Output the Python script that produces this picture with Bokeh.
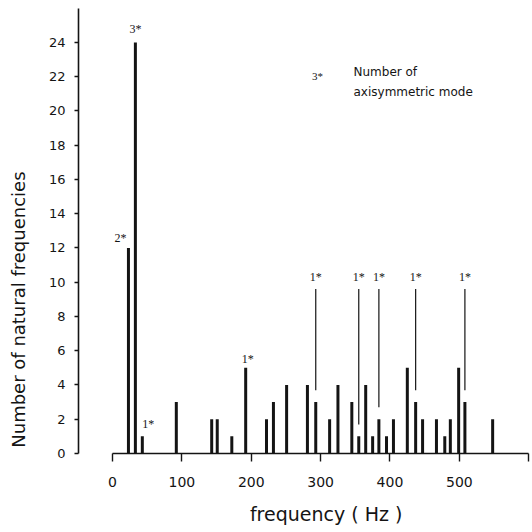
import numpy as np
from bokeh.plotting import figure
from bokeh.models import Label, FixedTicker, Range1d, ColumnDataSource
from bokeh.embed import file_html
from bokeh.resources import INLINE
from bokeh.core.properties import value

# ---- data ----
freqs = [23, 33, 43, 92, 143, 151, 172, 192, 222, 232, 251, 281, 293, 313, 325,
         345, 355, 365, 375, 384, 395, 405, 425, 437, 447, 467, 479, 487, 499, 508, 548]
counts = [12, 24, 1, 3, 2, 2, 1, 5, 2, 3, 4, 4, 3, 2, 4,
          3, 1, 4, 1, 2, 1, 2, 5, 3, 2, 2, 1, 2, 5, 3, 2]

# axisymmetric mode numbers (labelled bars)
mode_freqs = [33, 23, 43, 192]
mode_labels = ["3*", "2*", "1*", "1*"]
leader_freqs = [293, 355, 384, 437, 508]
leader_labels = ["1*", "1*", "1*", "1*", "1*"]

x_ticks = [0, 100, 200, 300, 400, 500, 600]
y_ticks = list(range(0, 25, 2))

x_title = "frequency ( Hz )"
y_title = "Number of natural frequencies"

INK = "#141414"
SANS = "DejaVu Sans"
NB = "\u00a0"

p = figure(width=532, height=532, output_backend="svg", toolbar_location=None,
           x_range=Range1d(-49, 604), y_range=Range1d(0, 26.16),
           min_border_left=78, min_border_right=1, min_border_top=5, min_border_bottom=79)
p.outline_line_color = None
p.xgrid.visible = False
p.ygrid.visible = False
p.background_fill_color = "white"
p.border_fill_color = "white"

# bars
cnt = dict(zip(freqs, counts))
src = ColumnDataSource(dict(x=freqs, y0=[0] * len(freqs), y1=counts))
p.segment(x0="x", y0="y0", x1="x", y1="y1", source=src, line_width=3, line_color=INK)

# leader lines for higher mode labels
lsrc = ColumnDataSource(dict(x=leader_freqs,
                             y0=[cnt[f] + 0.7 for f in leader_freqs],
                             y1=[9.6] * len(leader_freqs)))
p.segment(x0="x", y0="y0", x1="x", y1="y1", source=lsrc, line_width=1.2, line_color=INK)

# mode labels
dx = [0, -11.5, 8.6, 3]
dy = [0.8, 0.6, 0.75, 0.5]
msrc = ColumnDataSource(dict(x=[f + a for f, a in zip(mode_freqs, dx)],
                             y=[cnt[f] + b for f, b in zip(mode_freqs, dy)],
                             t=mode_labels))
p.text(x="x", y="y", text="t", source=msrc, text_font=value("Liberation Serif"),
       text_font_size="12px", text_align="center", text_baseline="middle", text_color=INK)
ldsrc = ColumnDataSource(dict(x=leader_freqs, y=[10.3] * len(leader_freqs), t=leader_labels))
p.text(x="x", y="y", text="t", source=ldsrc, text_font=value("Liberation Serif"),
       text_font_size="12px", text_align="center", text_baseline="middle", text_color=INK)

# legend note
p.add_layout(Label(x=295.5, y=22.07, text="3*", text_font="Liberation Serif",
                   text_font_size="11px", text_align="center", text_baseline="middle",
                   text_color=INK))
p.add_layout(Label(x=347.4, y=22.3, text="Number of", text_font=SANS,
                   text_font_size="12px", text_align="left", text_baseline="middle",
                   text_color=INK))
p.add_layout(Label(x=347.4, y=21.08, text="axisymmetric mode", text_font=SANS,
                   text_font_size="12px", text_align="left", text_baseline="middle",
                   text_color=INK))

# axes
xa = p.xaxis[0]
xa.bounds = (0, 600)
xa.ticker = FixedTicker(ticks=x_ticks)
xa.major_label_overrides = {600: ""}
xa.minor_tick_line_color = None
xa.major_tick_in = 0
xa.major_tick_out = 8
xa.major_label_standoff = 15
xa.axis_line_width = 1.6
xa.axis_line_color = INK
xa.major_tick_line_color = INK
xa.major_tick_line_width = 1.4
xa.major_label_text_font = SANS
xa.major_label_text_font_size = "14px"
xa.major_label_text_color = INK
xa.axis_label = NB * 7 + x_title
xa.axis_label_text_font = SANS
xa.axis_label_text_font_size = "19px"
xa.axis_label_text_font_style = "normal"
xa.axis_label_text_color = INK
xa.axis_label_standoff = 13

ya = p.yaxis[0]
ya.bounds = (0, 26)
ya.ticker = FixedTicker(ticks=y_ticks)
ya.minor_tick_line_color = None
ya.major_tick_in = 0
ya.major_tick_out = 4
ya.major_label_standoff = 9
ya.axis_line_width = 1.6
ya.axis_line_color = INK
ya.major_tick_line_color = INK
ya.major_tick_line_width = 1.4
ya.major_label_text_font = SANS
ya.major_label_text_font_size = "13px"
ya.major_label_text_color = INK
ya.major_label_orientation = "horizontal"
ya.axis_label = y_title + NB * 28
ya.axis_label_text_font = SANS
ya.axis_label_text_font_size = "18px"
ya.axis_label_text_font_style = "normal"
ya.axis_label_text_color = INK
ya.axis_label_standoff = 17

open("out.html", "w").write(file_html(p, INLINE))
